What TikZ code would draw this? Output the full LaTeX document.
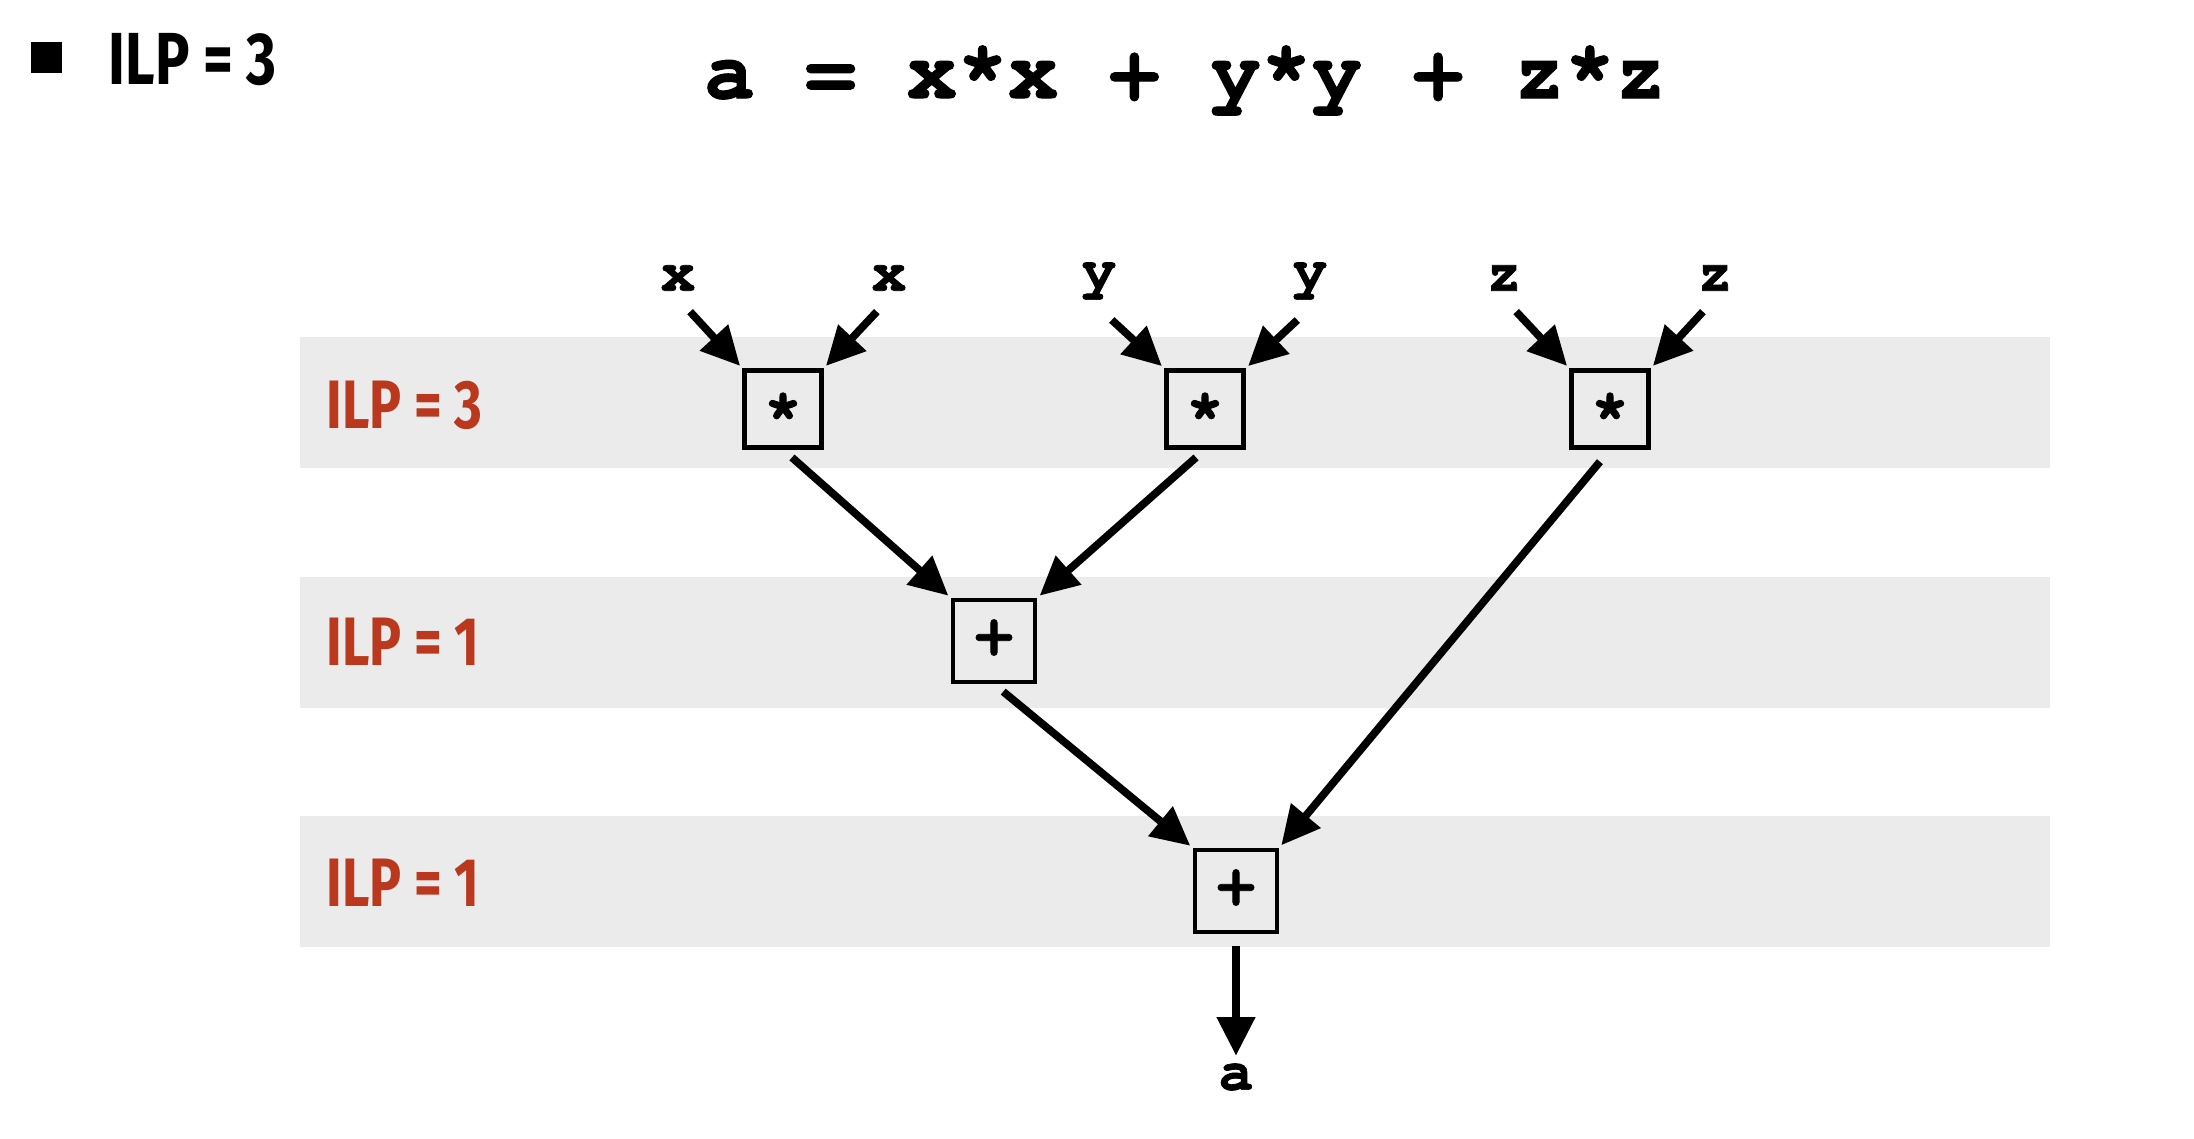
\documentclass[tikz,border=0pt]{standalone}
\usepackage{fontspec}
\setmainfont{Liberation Sans}
\newfontfamily\codefont{texgyrecursor}[Extension=.otf,UprightFont=*-regular,BoldFont=*-bold,BoldFeatures={FakeBold=1.2}]
\newfontfamily\ilpfont[FakeStretch=0.78]{Fira Sans}
\usetikzlibrary{arrows.meta}
\definecolor{bandgray}{RGB}{235,235,235}
\definecolor{ilpred}{RGB}{185,56,30}

\begin{document}
\begin{tikzpicture}[x=0.1mm,y=-0.1mm,
    op/.style={draw,line width=1.15pt,minimum size=7.7mm,inner sep=0pt,
      text height=0.7em,text depth=0pt,font=\codefont\bfseries\fontsize{18}{18}\selectfont},
    var/.style={inner sep=1pt,font=\codefont\bfseries\fontsize{16.5}{16.5}\selectfont},
    ilp/.style={anchor=west,inner sep=0pt,text=ilpred,font=\ilpfont\bfseries\fontsize{19.5}{19.5}\selectfont},
    arr/.style={-{Triangle[length=11pt,width=10.5pt]},line width=2.2pt,
      shorten <=3.4pt,shorten >=1pt}]
  \useasboundingbox (0,0) rectangle (2194,1138);
  % header
  \fill (31,42) rectangle (62,73);
  \node [anchor=west,inner sep=0pt,font=\ilpfont\bfseries\fontsize{21}{21}\selectfont] (head) at (108,60) {ILP = 3};
  \node [anchor=base,inner sep=0pt,font=\codefont\bfseries\fontsize{24}{24}\selectfont] (expr) at (1185,98) {a = x*x + y*y + z*z};
  % bands
  \foreach \t in {337,577,816}
    \fill [bandgray] (300,\t) rectangle (2050,\t+131);
  \node [ilp] (l1) at (326,405) {ILP = 3};
  \node [ilp] (l2) at (326,642) {ILP = 1};
  \node [ilp] (l3) at (326,883) {ILP = 1};
  % operations
  \node [op] (m1) at (783,409) {\raisebox{-0.17em}{*}};
  \node [op] (m2) at (1205,409) {\raisebox{-0.17em}{*}};
  \node [op] (m3) at (1610,409) {\raisebox{-0.17em}{*}};
  \node [op,minimum size=8.2mm] (p1) at (994,641) {+};
  \node [op,minimum size=8.2mm] (p2) at (1236,891) {+};
  % inputs and output
  \node [var] (x1) at (678,278) {x};
  \node [var] (x2) at (889,278) {x};
  \node [var] (y1) at (1099,281) {y};
  \node [var] (y2) at (1310,281) {y};
  \node [var] (z1) at (1504,278) {z};
  \node [var] (z2) at (1715,278) {z};
  \node [var] (a) at (1236,1077) {a};
  % edges
  \draw [arr] ([shift={(4,8)}]x1.south) -- (m1.north west);
  \draw [arr] ([shift={(-4,8)}]x2.south) -- (m1.north east);
  \draw [arr] ([shift={(4,8)}]y1.south) -- (m2.north west);
  \draw [arr] ([shift={(-4,8)}]y2.south) -- (m2.north east);
  \draw [arr] ([shift={(4,8)}]z1.south) -- (m3.north west);
  \draw [arr] ([shift={(-4,8)}]z2.south) -- (m3.north east);
  \draw [arr] (m1.south) -- (p1.north west);
  \draw [arr] (m2.south) -- (p1.north east);
  \draw [arr,shorten <=4.5pt] (m3.south) -- (p2.north east);
  \draw [arr] (p1.south) -- (p2.north west);
  \draw [arr] (p2.south) -- (a.north);
\end{tikzpicture}
\end{document}
